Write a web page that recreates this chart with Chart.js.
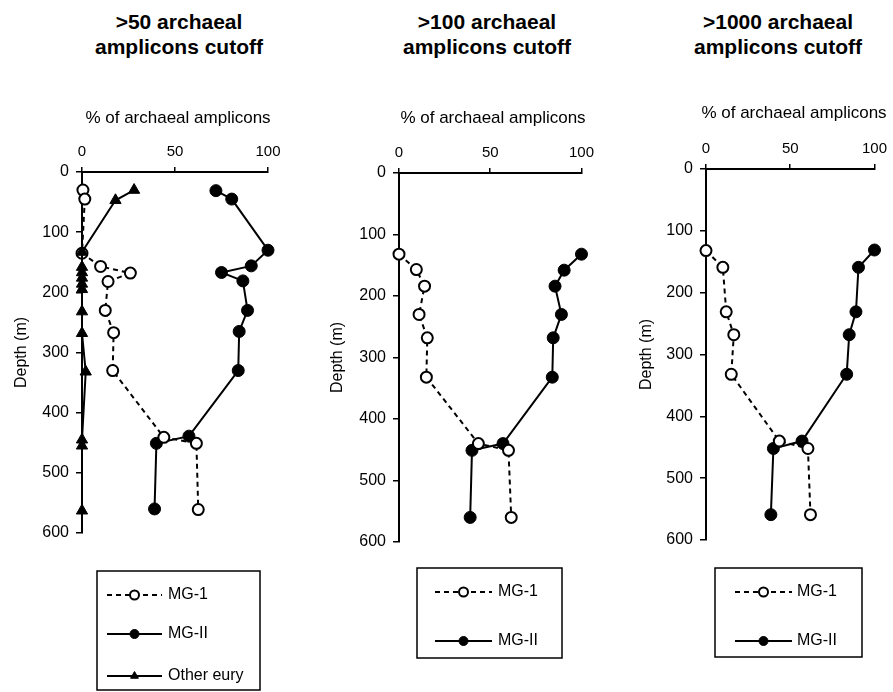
<!DOCTYPE html>
<html>
<head>
<meta charset="utf-8">
<script src="https://cdn.jsdelivr.net/npm/chart.js@4.4.0/dist/chart.umd.min.js"></script>
<style>
body { margin:0; background:#fff; width:893px; height:692px; position:relative; overflow:hidden; font-family:"Liberation Sans", Arial, sans-serif; }
.title { position:absolute; top:9px; width:260px; margin-left:-130px; text-align:center; font-weight:bold; font-size:21px; line-height:25px; color:#000; }
canvas { position:absolute; top:90px; }
</style>
</head>
<body>
<div class="title" style="left:179px">&gt;50 archaeal<br>amplicons cutoff</div>
<div class="title" style="left:487px">&gt;100 archaeal<br>amplicons cutoff</div>
<div class="title" style="left:778px">&gt;1000 archaeal<br>amplicons cutoff</div>
<canvas id="panel1" width="300" height="602" style="left:0px"></canvas>
<canvas id="panel2" width="300" height="602" style="left:300px"></canvas>
<canvas id="panel3" width="273" height="602" style="left:620px"></canvas>
<script>
// >50 cutoff
const p1Mg1Depth = [30, 45, 135, 157, 168, 182, 230, 267, 330, 441, 451, 561];
const p1Mg1 = [0.5, 1.5, 0, 10, 26, 14, 12.5, 17, 16.5, 44, 61.5, 62.5];
const p1Mg2Depth = [31, 45, 130, 156, 167, 181, 230, 265, 330, 439, 451, 560];
const p1Mg2 = [72, 80.5, 100, 91, 75, 86.5, 89, 84.5, 84, 57.5, 40, 39];
const p1OtherDepth = [30, 47, 133, 158, 167, 176, 186, 195, 232, 268, 332, 445, 455, 563];
const p1Other = [28, 18, 0, 0, 0, 0, 0, 0, 0, 0, 2, 0, 0, 0];

// >100 cutoff
const p2Mg1Depth = [132, 157, 184, 230, 268, 332, 440, 451, 560];
const p2Mg1 = [0, 9.5, 14, 11, 15.5, 15, 43.5, 60, 61.5];
const p2Mg2Depth = [132, 158, 184, 230, 268, 332, 440, 451, 560];
const p2Mg2 = [100, 90.5, 85.5, 89, 84.5, 84, 57, 40, 39];

// >1000 cutoff
const p3Mg1Depth = [132, 159, 231, 268, 332, 440, 452, 559];
const p3Mg1 = [0, 10, 12, 16.5, 15, 43.5, 60.5, 62];
const p3Mg2Depth = [131, 159, 231, 268, 332, 440, 452, 559];
const p3Mg2 = [100, 90.5, 89, 85, 83.5, 57, 40, 38.5];

const xTicks = [0, 50, 100];
const depthTicks = [0, 100, 200, 300, 400, 500, 600];

Chart.defaults.font.family = '"Liberation Sans", Arial, sans-serif';
Chart.defaults.color = '#000';

const mg1Style = { borderDash: [5, 4], borderWidth: 2, pointStyle: 'circle', pointRadius: 5.5,
    pointBackgroundColor: '#fff', pointBorderColor: '#000', pointBorderWidth: 2 };
const mg2Style = { borderWidth: 2, pointStyle: 'circle', pointRadius: 6,
    pointBackgroundColor: '#000', pointBorderColor: '#000', pointBorderWidth: 1 };
const otherStyle = { borderWidth: 2, pointStyle: 'triangle', pointRadius: 6.5, order: -1,
    pointBackgroundColor: '#000', pointBorderColor: '#000', pointBorderWidth: 1 };

function series(label, values, depths, style) {
    return Object.assign({
        label: label,
        data: values.map((v, i) => ({ x: v, y: depths[i] })),
        showLine: true,
        borderColor: '#000',
        clip: false
    }, style);
}

// top axis title, allowed to run past the plot width like the original
const topTitle = {
    id: 'topTitle',
    afterDraw(chart, args, opts) {
        const ctx = chart.ctx;
        ctx.save();
        ctx.fillStyle = '#000';
        ctx.font = '17px "Liberation Sans", Arial, sans-serif';
        ctx.textAlign = 'center';
        ctx.textBaseline = 'middle';
        ctx.fillText(opts.text, opts.x, opts.y);
        ctx.restore();
    }
};

// legend box drawn under each panel
const boxLegend = {
    id: 'boxLegend',
    afterDraw(chart, args, opts) {
        const ctx = chart.ctx;
        ctx.save();
        ctx.lineWidth = 1.5;
        ctx.strokeStyle = '#000';
        ctx.strokeRect(opts.x, opts.y, opts.w, opts.h);
        chart.data.datasets.forEach((ds, i) => {
            const y = opts.rows[i];
            ctx.strokeStyle = '#000';
            ctx.setLineDash(ds.borderDash || []);
            ctx.lineWidth = ds.borderWidth;
            ctx.beginPath();
            ctx.moveTo(opts.lineX0, y);
            ctx.lineTo(opts.lineX1, y);
            ctx.stroke();
            ctx.setLineDash([]);
            ctx.fillStyle = ds.pointBackgroundColor;
            ctx.lineWidth = ds.pointBorderWidth;
            Chart.helpers.drawPoint(ctx, { pointStyle: ds.pointStyle, radius: 4.5,
                borderWidth: ds.pointBorderWidth, rotation: 0 }, (opts.lineX0 + opts.lineX1) / 2, y);
            ctx.fillStyle = '#000';
            ctx.font = '16px "Liberation Sans", Arial, sans-serif';
            ctx.textBaseline = 'middle';
            ctx.fillText(ds.label, opts.textX, y);
        });
        ctx.restore();
    }
};

function drawPanel(id, datasets, geom, legend) {
    new Chart(document.getElementById(id), {
        type: 'scatter',
        data: { datasets: datasets },
        plugins: [boxLegend, topTitle],
        options: {
            responsive: false,
            animation: false,
            layout: { padding: geom.padding },
            plugins: {
                legend: { display: false },
                tooltip: { enabled: false },
                boxLegend: legend,
                topTitle: { text: '% of archaeal amplicons', x: geom.tx, y: geom.ty }
            },
            scales: {
                x: {
                    type: 'linear', position: 'top', min: 0, max: 100,
                    afterBuildTicks: s => { s.ticks = xTicks.map(v => ({ value: v })); },
                    ticks: { color: '#000', font: { size: 15 }, padding: 6 },
                    grid: { drawOnChartArea: false, color: '#000', tickLength: 5, lineWidth: 1.5 },
                    border: { color: '#000', width: 2 },
                    afterFit: s => { s.height = geom.xh; }
                },
                y: {
                    type: 'linear', reverse: true, min: 0, max: 600,
                    afterBuildTicks: s => { s.ticks = depthTicks.map(v => ({ value: v })); },
                    ticks: { color: '#000', font: { size: 16 }, padding: 7 },
                    grid: { drawOnChartArea: false, color: '#000', tickLength: 6, lineWidth: 1.5 },
                    border: { color: '#000', width: 2 },
                    title: { display: true, text: 'Depth (m)', color: '#000',
                        font: { size: 16 }, padding: 0 },
                    afterFit: s => { s.width = geom.yw; }
                }
            }
        }
    });
}

drawPanel('panel1', [
    series('MG-1', p1Mg1, p1Mg1Depth, mg1Style),
    series('MG-II', p1Mg2, p1Mg2Depth, mg2Style),
    series('Other eury', p1Other, p1OtherDepth, otherStyle)
], { padding: { top: 18, left: 12, right: 32, bottom: 159 }, xh: 64, yw: 70, tx: 178, ty: 28 },
   { x: 97, y: 481, w: 163, h: 119, rows: [505, 544, 586], lineX0: 107, lineX1: 162, textX: 168 });

drawPanel('panel2', [
    series('MG-1', p2Mg1, p2Mg1Depth, mg1Style),
    series('MG-II', p2Mg2, p2Mg2Depth, mg2Style)
], { padding: { top: 18, left: 28, right: 15, bottom: 150 }, xh: 65, yw: 71, tx: 193, ty: 28 },
   { x: 117, y: 478, w: 145, h: 90, rows: [502, 551], lineX0: 135, lineX1: 192, textX: 198 });

drawPanel('panel3', [
    series('MG-1', p3Mg1, p3Mg1Depth, mg1Style),
    series('MG-II', p3Mg2, p3Mg2Depth, mg2Style)
], { padding: { top: 15, left: 17, right: 18, bottom: 152 }, xh: 64, yw: 69, tx: 174, ty: 23 },
   { x: 95, y: 478, w: 147, h: 89, rows: [502, 551], lineX0: 115, lineX1: 172, textX: 177 });
</script>
</body>
</html>
